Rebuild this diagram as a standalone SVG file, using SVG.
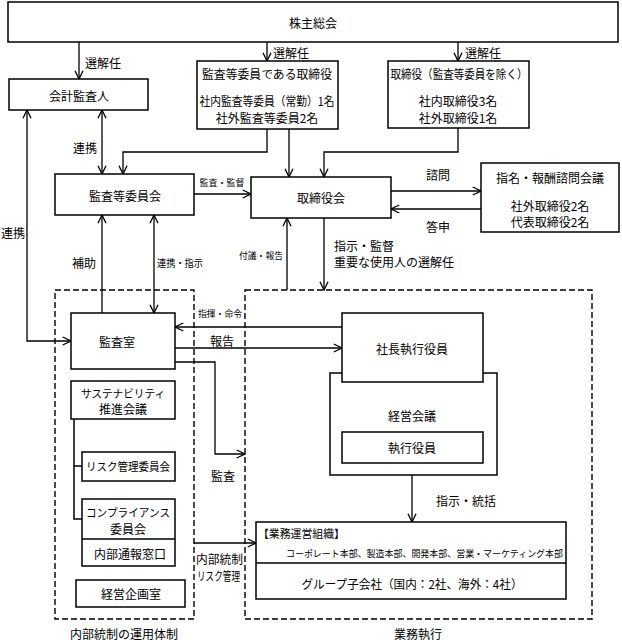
<svg xmlns="http://www.w3.org/2000/svg" width="622" height="640" viewBox="0 0 622 640">
<style>
text{font-family:"Noto Sans CJK JP","Noto Sans CJK SC",sans-serif;font-size:12px;fill:#000;dominant-baseline:central}
.c{text-anchor:middle}
.s{font-size:9px}
.box{fill:#fff;stroke:#000;stroke-width:1.5}
.dash{fill:none;stroke:#000;stroke-width:1.4;stroke-dasharray:6,3}
.ln{fill:none;stroke:#000;stroke-width:1.3}
.a{marker-end:url(#arr)}
.b{marker-start:url(#arr);marker-end:url(#arr)}
</style>
<defs>
<marker id="arr" viewBox="0 0 10 10" refX="9.3" refY="5" markerWidth="10" markerHeight="10" markerUnits="userSpaceOnUse" orient="auto-start-reverse">
<path d="M1,1 L9.3,5 L1,9" fill="none" stroke="#000" stroke-width="1.3"/>
</marker>
</defs>
<rect width="622" height="640" fill="#fff"/>

<g id="frames">
<rect class="dash" x="55" y="290" width="139" height="329"/>
<rect class="dash" x="245" y="290" width="347" height="329"/>
<text class="c" x="124" y="633">内部統制の運用体制</text>
<text class="c" x="418" y="633">業務執行</text>
</g>

<g id="connectors">
<path class="ln a" d="M79,42 V79"/>
<path class="ln a" d="M267,42 V61"/>
<path class="ln a" d="M458,42 V61"/>
<path class="ln b" d="M102,110 V174"/>
<path class="ln b" d="M27,110 V341 H71"/>
<path class="ln a" d="M267,129 V152 H123 V174"/>
<path class="ln a" d="M289,129 V177"/>
<path class="ln a" d="M458,128 V152 H324 V177"/>
<path class="ln a" d="M194,194 H251"/>
<path class="ln a" d="M391,191 H481"/>
<path class="ln a" d="M481,209 H391"/>
<path class="ln a" d="M324,218 V290"/>
<path class="ln a" d="M287,290 V218"/>
<path class="ln a" d="M102,313 V215"/>
<path class="ln b" d="M154,215 V313"/>
<path class="ln a" d="M342,327 H175"/>
<path class="ln a" d="M175,348 H342"/>
<path class="ln a" d="M175,362 H215 V454 H245"/>
<path class="ln a" d="M412,463 V522"/>
<path class="ln a" d="M194,543 H256"/>
<path class="ln" d="M74,419 V519 H82 M74,466 H82" style="stroke-width:1.5"/>
<text x="85" y="62">選解任</text>
<text x="273" y="52">選解任</text>
<text x="465" y="52">選解任</text>
<text class="c" x="85" y="147">連携</text>
<text class="c" x="13" y="232">連携</text>
<text class="c s" x="222" y="182" textLength="45" lengthAdjust="spacingAndGlyphs">監査・監督</text>
<text class="c" x="438" y="174">諮問</text>
<text class="c" x="438" y="226">答申</text>
<text x="334" y="245">指示・監督</text>
<text x="334" y="261">重要な使用人の選解任</text>
<text class="c s" x="261" y="255" textLength="44" lengthAdjust="spacingAndGlyphs">付議・報告</text>
<text class="c" x="84" y="262">補助</text>
<text class="c" x="180" y="262" style="font-size:10px" textLength="46" lengthAdjust="spacingAndGlyphs">連携・指示</text>
<text class="c s" x="220" y="313" textLength="44" lengthAdjust="spacingAndGlyphs">指揮・命令</text>
<text class="c" x="222" y="340">報告</text>
<text class="c" x="223" y="475">監査</text>
<text class="c" x="466" y="500">指示・統括</text>
<text x="196" y="558" textLength="47" lengthAdjust="spacingAndGlyphs">内部統制</text>
<text x="197" y="575" textLength="43" lengthAdjust="spacingAndGlyphs">リスク管理</text>
</g>

<g id="shareholders">
<rect class="box" x="8" y="2" width="610" height="40"/>
<text class="c" x="313" y="22">株主総会</text>
</g>

<g id="auditor">
<rect class="box" x="9" y="79" width="139" height="31"/>
<text class="c" x="79" y="95">会計監査人</text>
</g>

<g id="audit-directors">
<rect class="box" x="197" y="61" width="141" height="68"/>
<text class="c" x="267" y="73" textLength="130" lengthAdjust="spacingAndGlyphs">監査等委員である取締役</text>
<text class="c" x="267" y="100" textLength="135" lengthAdjust="spacingAndGlyphs">社内監査等委員（常勤）1名</text>
<text class="c" x="267" y="117">社外監査等委員2名</text>
</g>

<g id="directors">
<rect class="box" x="388" y="61" width="141" height="67"/>
<text class="c" x="459" y="73" textLength="137" lengthAdjust="spacingAndGlyphs">取締役（監査等委員を除く）</text>
<text class="c" x="458" y="100">社内取締役3名</text>
<text class="c" x="458" y="117">社外取締役1名</text>
</g>

<g id="audit-committee">
<rect class="box" x="55" y="174" width="139" height="41"/>
<text class="c" x="125" y="195">監査等委員会</text>
</g>

<g id="board">
<rect class="box" x="251" y="177" width="140" height="41"/>
<text class="c" x="321" y="197">取締役会</text>
</g>

<g id="nomination">
<rect class="box" x="481" y="163" width="138" height="69"/>
<text class="c" x="550" y="177">指名・報酬諮問会議</text>
<text class="c" x="550" y="205">社外取締役2名</text>
<text class="c" x="550" y="221">代表取締役2名</text>
</g>

<g id="audit-office">
<rect class="box" x="71" y="313" width="104" height="56"/>
<text class="c" x="117" y="341">監査室</text>
</g>

<g id="sustainability">
<rect class="box" x="71" y="381" width="104" height="38"/>
<text class="c" x="123" y="393" style="font-size:11px" textLength="84" lengthAdjust="spacingAndGlyphs">サステナビリティ</text>
<text class="c" x="123" y="408">推進会議</text>
</g>

<g id="risk">
<rect class="box" x="82" y="452" width="93" height="29"/>
<text class="c" x="128" y="466" style="font-size:11px" textLength="84" lengthAdjust="spacingAndGlyphs">リスク管理委員会</text>
</g>

<g id="compliance">
<rect class="box" x="82" y="499" width="93" height="67"/>
<path d="M82,539 H175" stroke="#000" stroke-width="1.5"/>
<text class="c" x="128" y="512" style="font-size:11px" textLength="84" lengthAdjust="spacingAndGlyphs">コンプライアンス</text>
<text class="c" x="128" y="528">委員会</text>
<text class="c" x="130" y="553">内部通報窓口</text>
</g>

<g id="planning">
<rect class="box" x="76" y="580" width="109" height="27"/>
<text class="c" x="131" y="593">経営企画室</text>
</g>

<g id="management-meeting">
<rect class="box" x="330" y="373" width="167" height="102"/>
<text class="c" x="412" y="415">経営会議</text>
</g>

<g id="president">
<rect class="box" x="342" y="313" width="141" height="69"/>
<text class="c" x="412" y="348">社長執行役員</text>
</g>

<g id="officers">
<rect class="box" x="342" y="432" width="141" height="31"/>
<text class="c" x="412" y="447">執行役員</text>
</g>

<g id="operations">
<rect class="box" x="256" y="522" width="310" height="77"/>
<path d="M256,563 H566" stroke="#000" stroke-width="1.5"/>
<text x="258" y="533" style="font-size:11px" textLength="87" lengthAdjust="spacingAndGlyphs">【業務運営組織】</text>
<text x="563" y="553" style="font-size:9.5px;text-anchor:end" textLength="277" lengthAdjust="spacingAndGlyphs">コーポレート本部、製造本部、開発本部、営業・マーケティング本部</text>
<text class="c" x="412" y="583" textLength="221" lengthAdjust="spacingAndGlyphs">グループ子会社（国内：2社、海外：4社）</text>
</g>
</svg>
